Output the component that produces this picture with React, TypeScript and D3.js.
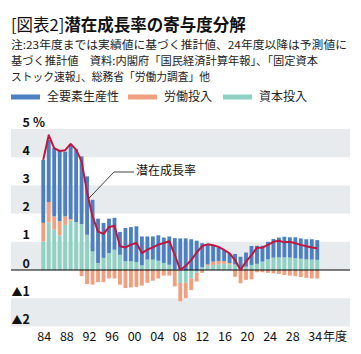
import React from "react";
import * as d3 from "d3";

const years = [1984,1985,1986,1987,1988,1989,1990,1991,1992,1993,1994,1995,1996,1997,1998,1999,2000,2001,2002,2003,2004,2005,2006,2007,2008,2009,2010,2011,2012,2013,2014,2015,2016,2017,2018,2019,2020,2021,2022,2023,2024,2025,2026,2027,2028,2029,2030,2031,2032,2033,2034];
const capital = [1.02,1.69,1.43,1.23,1.6,1.75,1.7,1.63,1.25,0.66,0.25,0.43,0.6,0.72,0.54,0.31,0.31,0.28,0.17,0.37,0.37,0.33,0.25,0.19,0.02,-0.46,-0.45,-0.3,-0.1,0.1,0.15,0.18,0.2,0.22,0.2,0.2,0.05,0.12,0.18,0.22,0.3,0.38,0.44,0.45,0.45,0.44,0.42,0.4,0.38,0.37,0.36];
const labor = [0.65,0.72,0.47,0.5,0.3,0.05,0,-0.22,-0.5,-0.52,-0.43,-0.43,-0.3,-0.3,-0.52,-0.64,-0.62,-0.6,-0.55,-0.45,-0.38,-0.3,-0.2,-0.2,-0.58,-0.65,-0.55,-0.41,-0.31,-0.1,0.05,0.12,0.12,0.1,0.05,-0.24,-0.47,-0.35,-0.33,-0.08,-0.08,-0.1,-0.12,-0.14,-0.18,-0.2,-0.22,-0.25,-0.28,-0.3,-0.3];
const tfp = [2.24,2.2,2.43,2.5,2.3,2.65,2.58,2.4,2.07,1.83,1.57,1.24,1.22,1.13,0.81,1.18,1.21,1.27,1.02,0.82,0.82,0.9,0.9,1.0,1.11,1.12,1.12,1.09,1.04,0.85,0.72,0.58,0.48,0.4,0.34,0.37,0.42,0.5,0.67,0.64,0.56,0.62,0.66,0.7,0.73,0.72,0.74,0.72,0.71,0.72,0.7];
const potential = [3.91,4.78,4.32,4.22,4.25,4.47,4.27,3.85,2.75,1.9,1.36,1.28,1.52,1.57,0.84,0.8,0.9,0.96,0.6,0.72,0.8,0.9,0.96,1.02,0.54,0.0,0.15,0.35,0.62,0.85,0.91,0.88,0.82,0.71,0.59,0.35,0.0,0.3,0.53,0.79,0.79,0.89,1.0,1.04,0.98,1.0,0.95,0.89,0.84,0.8,0.77];

const seriesKeys = ["capital", "labor", "tfp"];
const seriesColors: Record<string, string> = { capital: "#8fd1c2", labor: "#f0a07f", tfp: "#4d80c1" };
const legendItems = [
  { key: "tfp", label: "全要素生産性" },
  { key: "labor", label: "労働投入" },
  { key: "capital", label: "資本投入" },
];
const yTicks = [5, 4, 3, 2, 1, 0, -1, -2];
const shadedBands = [[4, 5], [2, 3], [0, 1], [-2, -1]];
const xTickLabels = ["84","88","92","96","00","04","08","12","16","20","24","28","34"];

const FONT = "'Noto Sans CJK JP', 'Noto Sans', sans-serif";

export default function App() {
  const width = 361, height = 354;
  const left = 11, right = 350;
  const x = d3.scaleBand<number>().domain(years).range([40.5, 320]).paddingInner(0.3).paddingOuter(0.15);
  const y = d3.scaleLinear().domain([-2, 5]).range([326.4, 129]);

  const table = years.map((yr, i) => ({ year: yr, capital: capital[i], labor: labor[i], tfp: tfp[i] }));
  const stacked = d3.stack<any>().keys(seriesKeys).offset(d3.stackOffsetDiverging)(table);

  const cx = (yr: number) => (x(yr) as number) + x.bandwidth() / 2;
  const line = d3.line<number>().x((_, i) => cx(years[i])).y((d) => y(d));

  const xl = d3.scalePoint<string>().domain(xTickLabels).range([cx(1984) + 1, cx(2034) - 2]);

  return (
    <svg width={width} height={height} style={{ display: "block", position: "absolute", left: 0, top: 0, background: "#fff" }} fontFamily={FONT}>
      {/* title */}
      <text x={11} y={31} fontSize={16.5} fill="#111">
        <tspan fontWeight={400}>[図表2]</tspan>
        <tspan fontWeight={700}>潜在成長率の寄与度分解</tspan>
      </text>
      <text x={11} y={49} fontSize={11} fill="#222" textLength={336} lengthAdjust="spacingAndGlyphs">注:23年度までは実績値に基づく推計値、24年度以降は予測値に</text>
      <text x={11} y={65} fontSize={11} fill="#222" textLength={307} lengthAdjust="spacingAndGlyphs">基づく推計値　資料:内閣府「国民経済計算年報」、「固定資本</text>
      <text x={11} y={81} fontSize={11} fill="#222" textLength={199} lengthAdjust="spacingAndGlyphs">ストック速報」、総務省「労働力調査」他</text>

      {/* legend */}
      {legendItems.map((it, i) => {
        const lx = [11, 128, 223][i];
        return (
          <g key={it.key}>
            <rect x={lx} y={94.5} width={29} height={5} fill={seriesColors[it.key]} />
            <text x={lx + 36} y={101} fontSize={12} fill="#222">{it.label}</text>
          </g>
        );
      })}

      {/* bands */}
      {shadedBands.map(([a, b], i) => (
        <rect key={i} x={left} y={y(b)} width={right - left} height={y(a) - y(b)} fill="#e8ebee" />
      ))}

      {/* bars */}
      {stacked.map((s) => (
        <g key={s.key} fill={seriesColors[s.key]}>
          {s.map((d, i) => (
            <rect key={i} x={x(years[i])} y={y(Math.max(d[0], d[1]))} width={x.bandwidth()} height={Math.abs(y(d[0]) - y(d[1]))} />
          ))}
        </g>
      ))}

      {/* zero line */}
      <line x1={left} x2={right} y1={y(0)} y2={y(0)} stroke="#000" strokeWidth={1.2} />

      {/* potential growth line */}
      <path d={line(potential) || ""} fill="none" stroke="#c0163f" strokeWidth={2} strokeLinejoin="round" />

      {/* annotation */}
      <path d={`M134 172 H114 L${cx(1992) + 2} ${y(2.55)}`} fill="none" stroke="#111" strokeWidth={0.8} />
      <text x={136} y={175} fontSize={12} fill="#111">潜在成長率</text>

      {/* y tick labels */}
      {yTicks.map((t) => (
        <text key={t} x={30} y={y(t) - 2.5} fontSize={12.5} fontWeight={700} textAnchor="end" fill="#111">
          {t < 0 ? (<><tspan fontSize={11}>▲</tspan>{Math.abs(t)}</>) : t}
        </text>
      ))}
      <text x={33} y={y(5) - 2.5} fontSize={12.5} fontWeight={700} fill="#111">%</text>

      {/* x tick labels */}
      {xTickLabels.map((l) => (
        <text key={l} x={xl(l)} y={341} fontSize={12.5} textAnchor="middle" fill="#111">{l}</text>
      ))}
      <text x={323} y={341} fontSize={12} fill="#111">年度</text>
    </svg>
  );
}
